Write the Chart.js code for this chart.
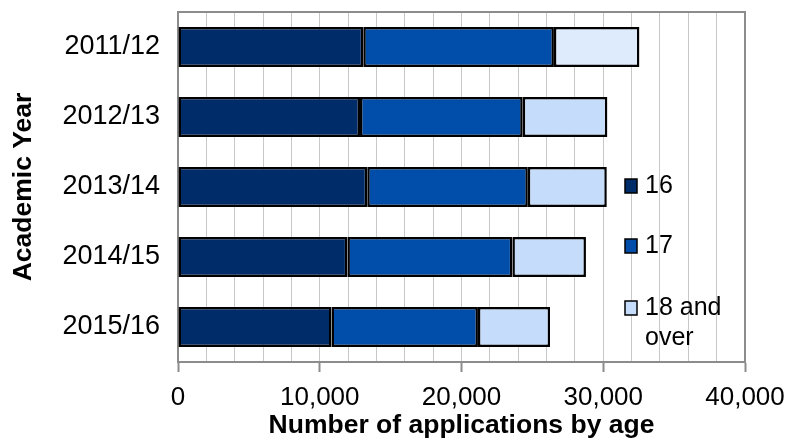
<!DOCTYPE html>
<html>
<head>
<meta charset="utf-8">
<script src="https://cdn.jsdelivr.net/npm/chart.js@4.4.1/dist/chart.umd.min.js"></script>
<style>
  html, body { margin: 0; padding: 0; background: #fff; }
  #wrap { width: 790px; height: 448px; }
</style>
</head>
<body>
<div id="wrap"><canvas id="chart" width="790" height="448"></canvas></div>
<script>
// データ
const years = ['2011/12', '2012/13', '2013/14', '2014/15', '2015/16'];
const age16 = [13070, 12840, 13350, 11950, 10830];
const age17 = [13450, 11480, 11330, 11640, 10330];
const age18 = [6030, 5970, 5570, 5190, 5090];
const seriesNames = ['16', '17', '18 and over'];
const xTicks = [0, 10000, 20000, 30000, 40000];

const FONT = "'Liberation Sans', Arial, sans-serif";

// 凡例をプロット内に描くプラグイン
const sideLegend = {
  id: 'sideLegend',
  afterDatasetsDraw(chart) {
    const ctx = chart.ctx;
    const items = [
      { lines: ['16'], y: 186 },
      { lines: ['17'], y: 246 },
      { lines: ['18 and', 'over'], y: 308 }
    ];
    ctx.save();
    ctx.font = '25px ' + FONT;
    ctx.textBaseline = 'middle';
    items.forEach((it, i) => {
      const ds = chart.data.datasets[i];
      ctx.fillStyle = ds.legendColor;
      ctx.fillRect(625, it.y - 7, 12, 14);
      ctx.strokeStyle = '#000';
      ctx.lineWidth = 1.5;
      ctx.strokeRect(625, it.y - 7, 12, 14);
      ctx.fillStyle = '#000';
      it.lines.forEach((ln, j) => ctx.fillText(ln, 645, it.y + j * 30));
    });
    ctx.restore();
  }
};

// プロット枠
const plotFrame = {
  id: 'plotFrame',
  beforeDatasetsDraw(chart) {
    const a = chart.chartArea;
    const ctx = chart.ctx;
    ctx.save();
    ctx.strokeStyle = '#8c8c8c';
    ctx.lineWidth = 2;
    ctx.strokeRect(a.left, a.top, a.right - a.left, a.bottom - a.top);
    ctx.restore();
  }
};

new Chart(document.getElementById('chart'), {
  type: 'bar',
  data: {
    labels: years,
    datasets: [
      { label: seriesNames[0], data: age16, backgroundColor: '#002C6A', legendColor: '#002C6A' },
      { label: seriesNames[1], data: age17, backgroundColor: '#004DAA', legendColor: '#004DAA' },
      { label: seriesNames[2], data: age18,
        backgroundColor: ['#DDEBFD', '#C5DCFA', '#C5DCFA', '#C5DCFA', '#C5DCFA'],
        legendColor: '#C5DCFA' }
    ].map(d => Object.assign(d, {
      borderColor: '#000',
      borderWidth: 2.5,
      borderSkipped: false,
      barPercentage: 1,
      categoryPercentage: 0.57
    }))
  },
  options: {
    indexAxis: 'y',
    responsive: false,
    animation: false,
    layout: { padding: { top: 12, right: 45, left: 0, bottom: 0 } },
    plugins: {
      legend: { display: false },
      tooltip: { enabled: false }
    },
    scales: {
      x: {
        stacked: true,
        min: 0,
        max: 40000,
        afterBuildTicks(s) {
          s.ticks = [];
          for (let v = 0; v <= 40000; v += 2000) s.ticks.push({ value: v });
        },
        afterFit(s) {
          s.height = 86;
          s.paddingLeft = 0;
          s.paddingRight = 0;
        },
        grid: {
          color: '#c8c8c8',
          lineWidth: 1,
          drawTicks: true,
          tickLength: 10,
          tickColor: (c) => (xTicks.includes(c.tick.value) ? '#8c8c8c' : 'rgba(0,0,0,0)'),
          tickWidth: 2
        },
        border: { color: '#8c8c8c', width: 2 },
        ticks: {
          autoSkip: false,
          maxRotation: 0,
          padding: 10,
          color: '#000',
          font: { family: FONT, size: 26 },
          callback: (v) => (xTicks.includes(v) ? v.toLocaleString('en-US') : '')
        },
        title: {
          display: true,
          text: 'Number of applications by age',
          color: '#000',
          font: { family: FONT, size: 26.5, weight: 'bold' },
          padding: { top: 0, bottom: 6 }
        }
      },
      y: {
        stacked: true,
        afterFit(s) {
          s.width = 178;
          s.paddingTop = 0;
          s.paddingBottom = 0;
        },
        grid: { display: false, drawTicks: false },
        border: { color: '#808080', width: 2 },
        ticks: {
          padding: 18,
          color: '#000',
          font: { family: FONT, size: 27 }
        },
        title: {
          display: true,
          text: 'Academic Year',
          color: '#000',
          font: { family: FONT, size: 26.5, weight: 'bold' },
          padding: { top: 8, bottom: 0 }
        }
      }
    }
  },
  plugins: [plotFrame, sideLegend]
});
</script>
</body>
</html>
